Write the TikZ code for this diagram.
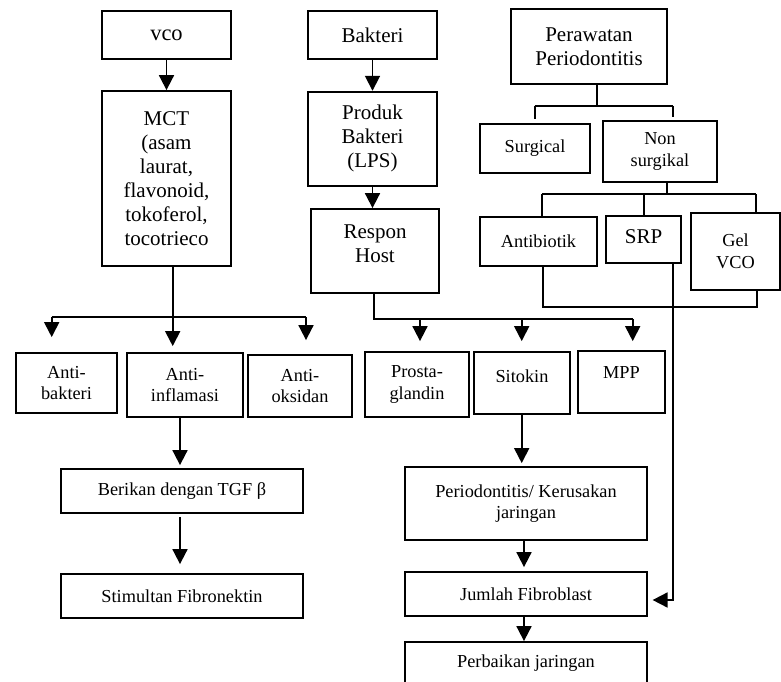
\documentclass[tikz,border=0pt]{standalone}
\usepackage{fontspec}
\setmainfont{Liberation Serif}
\usetikzlibrary{arrows.meta,calc}
\begin{document}
\begin{tikzpicture}[x=1pt,y=-1pt,
  box/.style={draw, line width=1.8pt, align=center, inner sep=2pt},
  big/.style={font=\fontsize{21}{24}\selectfont},
  small/.style={font=\fontsize{18.3}{21.5}\selectfont},
  ln/.style={line width=1.8pt},
  arr/.style={line width=1.8pt, -{Triangle[length=15pt,width=15pt]}}]
\useasboundingbox (0,0) rectangle (781,682);
\clip (0,0) rectangle (781,682);
% left column
\node[box,big,minimum width=129pt,minimum height=48pt] (vco) at (166.5,35) {\fontsize{22.5}{24}\selectfont vco};
\node[box,big,minimum width=129pt,minimum height=175pt] (mct) at (166.5,178.5) {MCT\\(asam\\laurat,\\flavonoid,\\tokoferol,\\tocotrieco};
% middle column
\node[box,big,minimum width=129pt,minimum height=48pt] (bak) at (372.5,35) {Bakteri};
\node[box,big,minimum width=129pt,minimum height=94pt] (prod) at (372.5,138.7) {Produk\\Bakteri\\(LPS)};
\node[box,big,minimum width=128pt,minimum height=84pt] (resp) at (375,251) {\raisebox{0pt}[\height][\dimexpr\depth+10pt\relax]{\begin{tabular}{@{}c@{}}Respon\\Host\end{tabular}}};
% right column
\node[box,big,minimum width=156pt,minimum height=75pt] (perw) at (589,46.5) {Perawatan\\Periodontitis};
\node[box,small,minimum width=110pt,minimum height=49pt] (surg) at (535,148.5) {Surgical};
\node[box,small,minimum width=114pt,minimum height=61pt] (nons) at (660,151.5) {Non\\surgikal};
\node[box,small,minimum width=117pt,minimum height=49pt] (anti) at (538.5,241.5) {Antibiotik};
\node[box,big,minimum width=75pt,minimum height=47pt,text depth=6pt] (srp) at (643.5,239.5) {SRP};
\node[box,small,minimum width=89pt,minimum height=77pt] (gel) at (735.5,251.5) {Gel\\VCO};
% row of effects
\node[box,small,minimum width=101pt,minimum height=60pt] (ab) at (66.5,383) {Anti-\\bakteri};
\node[box,small,minimum width=116pt,minimum height=64pt] (ai) at (185,385) {Anti-\\inflamasi};
\node[box,small,minimum width=104pt,minimum height=62pt] (ao) at (300,386) {Anti-\\oksidan};
\node[box,small,minimum width=104pt,minimum height=65pt] (pg) at (417,384.5) {Prosta-\\glandin};
\node[box,small,minimum width=96pt,minimum height=62pt,text depth=14pt] (sit) at (522,383) {Sitokin};
\node[box,small,minimum width=87pt,minimum height=62pt,text depth=18pt] (mpp) at (621.5,382) {MPP};
% lower boxes
\node[box,small,minimum width=242pt,minimum height=44pt] (ber) at (182,491) {Berikan dengan TGF β};
\node[box,small,minimum width=242pt,minimum height=44pt] (stim) at (182,596) {Stimultan Fibronektin};
\node[box,small,minimum width=242pt,minimum height=73pt] (perio) at (526,503.5) {Periodontitis/ Kerusakan\\jaringan};
\node[box,small,minimum width=242pt,minimum height=44pt] (jum) at (526,594) {Jumlah Fibroblast};
\node[box,small,minimum width=242pt,minimum height=42pt] (perb) at (526,663) {Perbaikan jaringan};
% connectors: left
\draw[arr] (vco) -- (mct);
\coordinate (m1) at (172.7,317.3);
\coordinate (mL) at (51.7,317.3);
\coordinate (mR) at (306,317.3);
\draw[ln] (mct.south -| m1) -- (m1);
\draw[ln] (mL) -- (mR);
\draw[arr,shorten >=15pt] (mL) -- (mL |- ab.north);
\draw[arr,shorten >=6pt] (m1) -- (m1 |- ai.north);
\draw[arr,shorten >=14pt] (mR) -- (mR |- ao.north);
\coordinate (a1) at (180,440);
\draw[arr,shorten >=3pt] (ai.south -| a1) -- (a1 |- ber.north);
\draw[arr,shorten <=3pt,shorten >=9pt] (ber.south -| a1) -- (a1 |- stim.north);
% connectors: middle
\draw[arr] (bak) -- (prod);
\draw[arr] (prod.south) -- (prod.south |- resp.north);
\coordinate (r1) at (374,319.3);
\coordinate (r2) at (420,319.3);
\coordinate (r3) at (521.7,319.3);
\coordinate (rR) at (632.7,319.3);
\draw[ln] (resp.south -| r1) -- (r1) -- (rR);
\draw[arr,shorten >=10pt] (r2) -- (r2 |- pg.north);
\draw[arr,shorten >=10pt] (r3) -- (r3 |- sit.north);
\draw[arr,shorten >=9pt] (rR) -- (rR |- mpp.north);
\coordinate (c1) at (521.7,440);
\coordinate (c2) at (524,555);
\draw[arr,shorten >=3pt] (sit.south -| c1) -- (c1 |- perio.north);
\draw[arr,shorten >=4pt] (perio.south -| c2) -- (c2 |- jum.north);
\draw[arr] (jum.south -| c2) -- (c2 |- perb.north);
% connectors: right
\coordinate (p1) at (597.3,106);
\coordinate (pL) at (534.7,106);
\coordinate (pR) at (673.3,106);
\draw[ln] (perw.south -| p1) -- (p1);
\draw[ln] (pL) -- (pR);
\draw[ln,shorten >=4pt] (pL) -- (pL |- surg.north);
\draw[ln,shorten >=3pt] (pR) -- (pR |- nons.north);
\coordinate (n1) at (667.3,194.3);
\coordinate (nL) at (542.3,194.3);
\coordinate (nM) at (644,194.3);
\coordinate (nR) at (755.7,194.3);
\draw[ln] (nons.south -| n1) -- (n1);
\draw[ln] (nL) -- (nR);
\draw[ln] (nL) -- (nL |- anti.north);
\draw[ln] (nM) -- (nM |- srp.north);
\draw[ln] (nR) -- (nR |- gel.north);
\coordinate (b1) at (542.7,307.3);
\coordinate (b2) at (756.7,307.3);
\draw[ln] (anti.south -| b1) -- (b1) -- (b2) -- (gel.south -| b2);
\coordinate (s1) at (673.3,600);
\draw[arr,shorten >=4.7pt] (srp.south -| s1) -- (s1) -- (s1 -| jum.east);
\end{tikzpicture}
\end{document}
